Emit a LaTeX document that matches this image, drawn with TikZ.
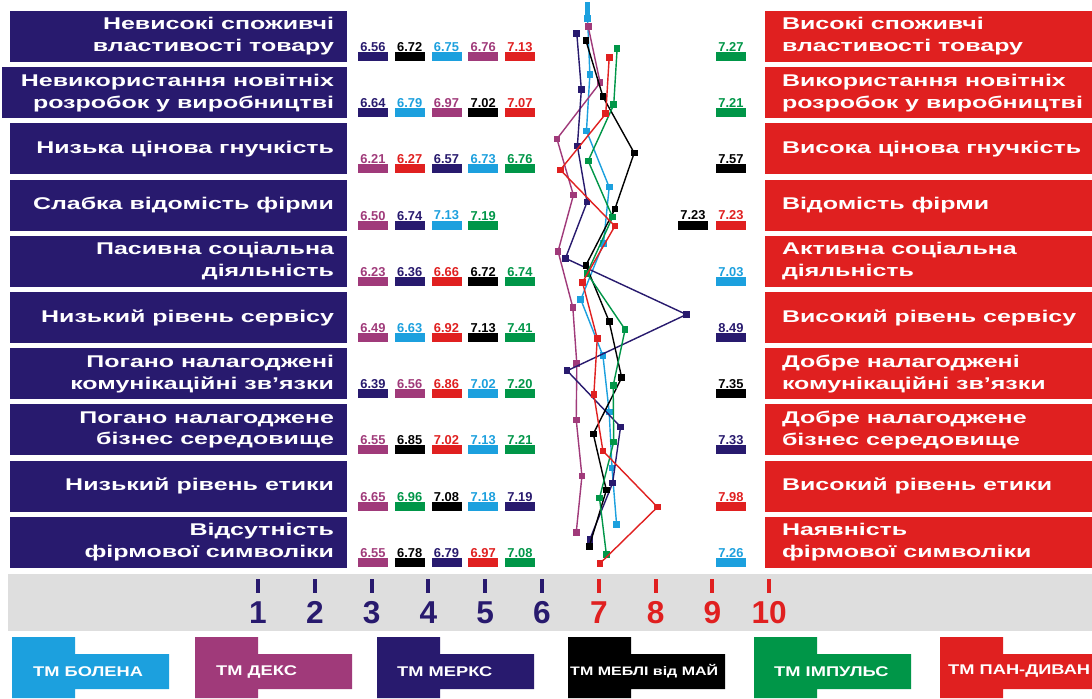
\documentclass[tikz,border=0pt]{standalone}
\usepackage{fontspec}
\setmainfont{Liberation Sans}
\newfontfamily\rowfont[FakeStretch=1.47]{Liberation Sans}
\newfontfamily\legfont[FakeStretch=1.3]{Liberation Sans}
\usetikzlibrary{positioning}
\definecolor{navy}{RGB}{40,26,110}
\definecolor{brandred}{RGB}{224,32,32}
\definecolor{skyblue}{RGB}{28,160,222}
\definecolor{plum}{RGB}{160,58,122}
\definecolor{leaf}{RGB}{0,150,72}
\definecolor{band}{RGB}{222,222,222}
\newcommand\rowtxt{\rowfont\bfseries\fontsize{14.5pt}{18.7pt}\selectfont}
\newcommand\numtxt{\bfseries\fontsize{11pt}{12pt}\selectfont}
\newcommand\scaletxt{\bfseries\fontsize{27pt}{28pt}\selectfont}
\tikzset{
  lbox/.style={fill=navy,inner sep=0pt,minimum height=1.53cm},
  rbox/.style={fill=brandred,inner sep=0pt,minimum height=1.53cm,minimum width=9.81cm},
  ltext/.style={text=white,inner sep=0pt,align=right,font=\rowtxt},
  rtext/.style={text=white,inner sep=0pt,align=left,font=\rowtxt},
  bar/.style={inner sep=0pt,minimum width=0.9cm,minimum height=0.27cm},
  num/.style={inner sep=0pt,font=\numtxt},
  trend/.style={line width=1.2pt,line join=round},
  sqmark/.style={inner sep=0pt,minimum size=0.2cm},
  tickbar/.style={inner sep=0pt,minimum width=0.12cm,minimum height=0.42cm},
  scalenum/.style={inner sep=0pt,font=\scaletxt},
  legtext/.style={text=white,inner sep=0pt}
}
\begin{document}
\begin{tikzpicture}[x=0.03cm,y=-0.03cm]
\useasboundingbox (0,0) rectangle (1092,698);
\fill[white] (0,0) rectangle (1092,698);
% factor rows
\foreach \i/\lx/\lt/\rt in {
  1/10/{Невисокі споживчі\\властивості товару}/{Високі споживчі\\властивості товару},
  2/2/{Невикористання новітніх\\розробок у виробництві}/{Використання новітніх\\розробок у виробництві},
  3/10/{Низька цінова гнучкість}/{Висока цінова гнучкість},
  4/10/{Слабка відомість фірми}/{Відомість фірми},
  5/10/{Пасивна соціальна\\діяльність}/{Активна соціальна\\діяльність},
  6/10/{Низький рівень сервісу}/{Високий рівень сервісу},
  7/10/{Погано налагоджені\\комунікаційні зв’язки}/{Добре налагоджені\\комунікаційні зв’язки},
  8/10/{Погано налагоджене\\бізнес середовище}/{Добре налагоджене\\бізнес середовище},
  9/10/{Низький рівень етики}/{Високий рівень етики},
  10/10/{Відсутність\\фірмової символіки}/{Наявність\\фірмової символіки}}{
  \pgfmathsetmacro\cy{36.5+(\i-1)*56.2}
  \pgfmathsetmacro\lw{(347-\lx)*0.03}
  \node[lbox,minimum width=\lw cm] (l\i) at ({(\lx+347)/2},\cy) {};
  \node[rbox] (r\i) at (928.5,\cy) {};
  \node[ltext,left=0.39cm of l\i.east] (lt\i) {\lt};
  \node[rtext,right=0.51cm of r\i.west] (rt\i) {\rt};
}
% value badges
\foreach \i/\vals in {
  1/{navy/6.56,black/6.72,skyblue/6.75,plum/6.76,brandred/7.13},
  2/{navy/6.64,skyblue/6.79,plum/6.97,black/7.02,brandred/7.07},
  3/{plum/6.21,brandred/6.27,navy/6.57,skyblue/6.73,leaf/6.76},
  4/{plum/6.50,navy/6.74,skyblue/7.13,leaf/7.19},
  5/{plum/6.23,navy/6.36,brandred/6.66,black/6.72,leaf/6.74},
  6/{plum/6.49,skyblue/6.63,brandred/6.92,black/7.13,leaf/7.41},
  7/{navy/6.39,plum/6.56,brandred/6.86,skyblue/7.02,leaf/7.20},
  8/{plum/6.55,black/6.85,brandred/7.02,skyblue/7.13,leaf/7.21},
  9/{plum/6.65,leaf/6.96,black/7.08,skyblue/7.18,navy/7.19},
  10/{plum/6.55,black/6.78,navy/6.79,brandred/6.97,leaf/7.08}}{
  \foreach \c/\v [count=\k] in \vals {
    \node[bar,fill=\c] (b\i-\k) at ({373+(\k-1)*36.75},{56.5+(\i-1)*56.2}) {};
    \node[num,text=\c,above=0pt of b\i-\k] (n\i-\k) {\v};
  }
}
\foreach \i/\c/\v/\x [count=\n] in {1/leaf/7.27/731,2/leaf/7.21/731,3/black/7.57/731,
  4/black/7.23/693,4/brandred/7.23/731,5/skyblue/7.03/731,6/navy/8.49/731,
  7/black/7.35/731,8/navy/7.33/731,9/brandred/7.98/731,10/skyblue/7.26/731}{
  \node[bar,fill=\c] (rb\n) at (\x,{56.5+(\i-1)*56.2}) {};
  \node[num,text=\c,above=0pt of rb\n] (rn\n) {\v};
}
% profile lines
\coordinate (bol0) at ({261+5.75*56.8},2);
\foreach \b/\c/\dy/\vals in {
  bol/skyblue/-18/{6.75,6.79,6.73,7.13,7.03,6.63,7.02,7.13,7.18,7.26},
  dek/plum/-10/{6.76,6.97,6.21,6.50,6.23,6.49,6.56,6.55,6.65,6.55},
  mer/navy/-3/{6.56,6.64,6.57,6.74,6.36,8.49,6.39,7.33,7.19,6.79},
  mai/black/4/{6.72,7.02,7.57,7.23,6.72,7.13,7.35,6.85,7.08,6.78},
  imp/leaf/12/{7.27,7.21,6.76,7.19,6.74,7.41,7.20,7.21,6.96,7.08},
  pan/brandred/21/{7.13,7.07,6.27,7.23,6.66,6.92,6.86,7.02,7.98,6.97}}{
  \foreach \v [count=\i] in \vals
    \coordinate (\b\i) at ({261+(\v-1)*56.8},{36.5+(\i-1)*56.2+\dy});
  \draw[trend,\c] (\b1) \foreach \i in {2,...,10}{ -- (\b\i)};
  \foreach \i in {1,...,10} \node[sqmark,fill=\c] (m\b\i) at (\b\i) {};
}
\draw[skyblue,line width=4.5pt] (bol0) -- (bol1);
% scale
\fill[band] (8,574) rectangle (1092,631);
\foreach \k in {1,...,10}{
  \ifnum\k<7 \def\tc{navy}\else\def\tc{brandred}\fi
  \node[tickbar,fill=\tc] (t\k) at ({258+(\k-1)*56.8},586) {};
  \node[scalenum,text=\tc,below=0.24cm of t\k] (s\k) {\k};
}
% legend
\foreach \k/\x/\c/\dx/\fs/\t in {1/12/skyblue/21/12/ТМ БОЛЕНА,2/195/plum/21/12/ТМ ДЕКС,
  3/377/navy/20/12/ТМ МЕРКС,4/568/black/2/10.5/ТМ МЕБЛІ від МАЙ,
  5/754/leaf/20/12/ТМ ІМПУЛЬС,6/940/brandred/8/12/ТМ ПАН-ДИВАН}{
  \fill[\c] (\x,637) rectangle +(63,61) (\x,654) rectangle +(157,35);
  \node[legtext,anchor=west,font={\legfont\bfseries\fontsize{\fs pt}{\fs pt}\selectfont}] (g\k) at ({\x+\dx},671.5) {\t};
}
\end{tikzpicture}
\end{document}
